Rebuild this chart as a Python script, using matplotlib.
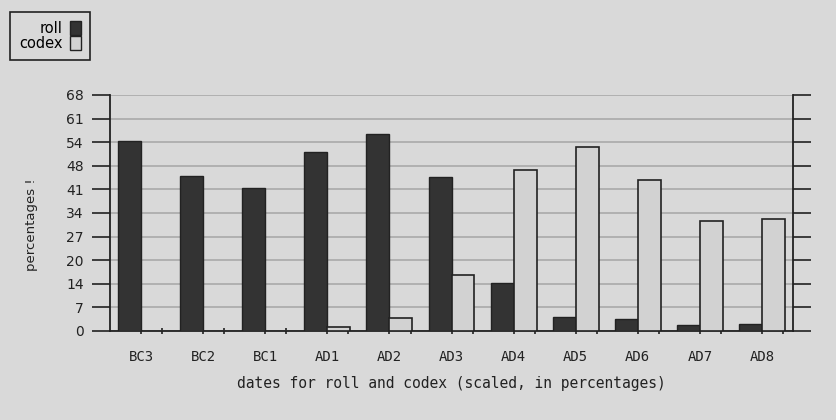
import numpy as np
import matplotlib
matplotlib.use("Agg")
import matplotlib.pyplot as plt
from matplotlib.patches import Patch

# --- Data ----------------------------------------------------------------
dates = ["BC3", "BC2", "BC1", "AD1", "AD2", "AD3", "AD4", "AD5", "AD6", "AD7", "AD8"]
roll = [54.8, 44.7, 41.2, 51.5, 56.8, 44.4, 13.8, 4.1, 3.5, 1.6, 2.1]
codex = [0.0, 0.0, 0.0, 1.1, 3.7, 16.2, 46.3, 53.1, 43.5, 31.6, 32.3]
ytick_vals = [0, 6.8, 13.6, 20.4, 27.2, 34.0, 40.8, 47.6, 54.4, 61.2, 68.0]
ytick_labels = ["0", "7", "14", "20", "27", "34", "41", "48", "54", "61", "68"]

bg = "#d9d9d9"
dark = "#333333"
light = "#d2d2d2"
mono = ["DejaVu Sans Mono"]

fig = plt.figure(figsize=(8.36, 4.2), dpi=100, facecolor=bg)
ax = fig.add_axes([0.1316, 0.212, 0.817, 0.562], facecolor=bg)

x = np.arange(len(dates))
w = 0.37
ax.bar(x - w / 2, roll, w, color=dark, edgecolor="#222222", lw=1.0, zorder=3)
codex_x = [xi + w / 2 for xi, v in zip(x, codex) if v > 0]
codex_v = [v for v in codex if v > 0]
ax.bar(codex_x, codex_v, w, color=light, edgecolor="#222222", lw=1.2, zorder=3)

ax.set_xlim(-0.5, len(dates) - 0.5)
ax.set_ylim(0, 68)

# -- y axis: ticks on both sides, labels only left --
ax.set_yticks(ytick_vals)
ax.set_yticklabels(ytick_labels, fontsize=10, color="#222222")
ax.tick_params(axis="y", direction="out", length=13, width=1.2, color="#222222",
               right=True, pad=6)
ax.yaxis.grid(True, color="#a9a9a9", lw=1.2, zorder=0)

# -- x axis --
ax.set_xticks(x)
ax.set_xticklabels(dates, family=mono, fontsize=10, color="#222222")
ax.set_xticks(x + 0.34, minor=True)
ax.tick_params(axis="x", which="both", direction="inout", length=4, width=1.2,
               color="#222222", pad=12)

for side in ("left", "right", "bottom"):
    ax.spines[side].set_color("#222222")
    ax.spines[side].set_linewidth(1.3)
ax.spines["top"].set_visible(False)

ax.set_xlabel("dates for roll and codex (scaled, in percentages)",
              family=mono, fontsize=10.5, color="#222222", labelpad=8)
ax.set_ylabel("percentages !", fontsize=9.5, color="#222222")
ax.yaxis.set_label_coords(-0.105, 0.45)

handles = [Patch(facecolor=dark, edgecolor="#222222"),
           Patch(facecolor=light, edgecolor="#222222")]
leg = fig.legend(handles, ["roll", "codex"], loc="upper left",
                 bbox_to_anchor=(0.012, 0.971), markerfirst=False,
                 fancybox=False, edgecolor="#222222", facecolor=bg,
                 framealpha=1, handlelength=0.8, handleheight=1.1,
                 handletextpad=0.5, labelspacing=0.0, borderpad=0.6,
                 borderaxespad=0.0,
                 prop={"family": "DejaVu Sans", "size": 10.5})
for t in leg.get_texts():
    t.set_ha("right")
leg.get_frame().set_linewidth(1.2)

fig.savefig("out.png", dpi=100, facecolor=bg)
